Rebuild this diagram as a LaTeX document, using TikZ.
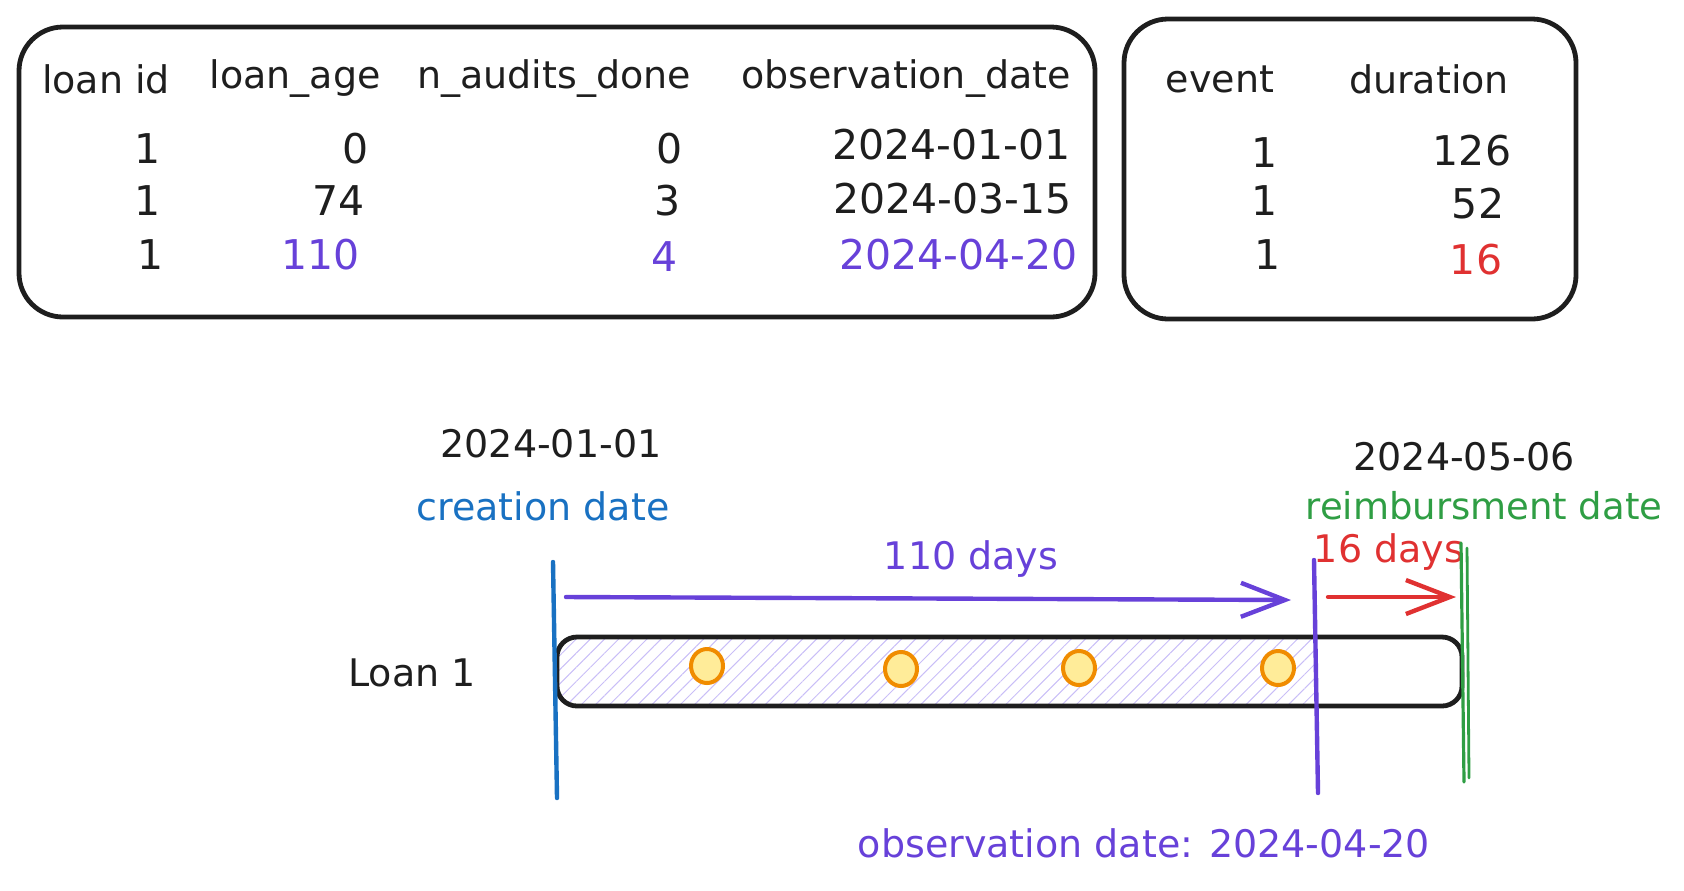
\documentclass[tikz,border=0pt]{standalone}
\usepackage{fontspec}
\setmainfont{DejaVu Sans}
\usetikzlibrary{arrows.meta,patterns.meta,shapes.geometric}
\definecolor{inkblack}{HTML}{1E1E1E}
\definecolor{inkblue}{HTML}{1971C2}
\definecolor{inkpurple}{HTML}{6741D9}
\definecolor{inkred}{HTML}{E03131}
\definecolor{inkgreen}{HTML}{2F9E44}
\definecolor{hatchpurple}{HTML}{C9BEF7}
\definecolor{dotfill}{HTML}{FFEC99}
\definecolor{dotline}{HTML}{F08C00}
\begin{document}
\begin{tikzpicture}[x=0.5pt,y=-0.5pt,
  every node/.style={inner sep=0pt,text=inkblack},
  hdr/.style={font=\fontsize{19}{22}\selectfont},
  val/.style={font=\fontsize{20.5}{24}\selectfont},
  lbl/.style={font=\fontsize{19}{22}\selectfont},
  tablebox/.style={draw=inkblack,line width=2.4pt,rounded corners=22pt},
  mark line/.style={line width=2.2pt,line cap=round},
  dayarrow/.style={line width=2.2pt,line cap=round,-{Straight Barb[length=22pt,width=17pt,line width=2.2pt]}},
  dot/.style={draw=dotline,fill=dotfill,line width=2pt,ellipse,minimum width=16pt,minimum height=17pt}
]
\useasboundingbox (0,0) rectangle (1684,890);

% ---- tables ----
\draw[tablebox] (19,27) rectangle (1095,317);
\draw[tablebox] (1124,19) rectangle (1576,319);

\node[hdr] (h1) at (106,79) {loan id};
\node[hdr] (h2) at (295,79) {loan\_age};
\node[hdr] (h3) at (554,79) {n\_audits\_done};
\node[hdr] (h4) at (906,79) {observation\_date};

\node[val] (r1c1) at (148,149) {1};
\node[val] (r2c1) at (148,201) {1};
\node[val] (r3c1) at (151,255) {1};
\node[val,anchor=east] (r1c2) at (369,149) {0};
\node[val,anchor=east] (r2c2) at (365,201) {74};
\node[val,anchor=east,text=inkpurple] (r3c2) at (360,255) {110};
\node[val] (r1c3) at (670,149) {0};
\node[val] (r2c3) at (668,201) {3};
\node[val,text=inkpurple] (r3c3) at (665,257) {4};
\node[val,anchor=east] (r1c4) at (1071,145) {2024-01-01};
\node[val,anchor=east] (r2c4) at (1072,199) {2024-03-15};
\node[val,anchor=east,text=inkpurple] (r3c4) at (1078,255) {2024-04-20};

\node[hdr] (h5) at (1220,79) {event};
\node[hdr] (h6) at (1429,79) {duration};
\node[val] (d1a) at (1265,153) {1};
\node[val] (d2a) at (1265,201) {1};
\node[val] (d3a) at (1268,255) {1};
\node[val] (d1b) at (1472,151) {126};
\node[val] (d2b) at (1478,204) {52};
\node[val,text=inkred] (d3b) at (1476,260) {16};

% ---- timeline labels ----
\node[lbl] (startdate) at (551,444) {2024-01-01};
\node[lbl,text=inkblue] (creation) at (543,506) {creation date};
\node[lbl] (enddate) at (1464,457) {2024-05-06};
\node[lbl,text=inkgreen,font=\fontsize{18.5}{22}\selectfont] (reimb) at (1484,506) {reimbursment date};
\node[lbl,text=inkpurple] (days110) at (971,559) {110 days};
\node[lbl,text=inkred] (days16) at (1389,552) {16 days};
\node[lbl] (loan1) at (412,673) {Loan 1};
\node[lbl,text=inkpurple] (obsdate) at (1144,843) {observation date: 2024-04-20};

% ---- bar ----
\begin{scope}
  \clip[rounded corners=10pt] (557,637) rectangle (1462,706);
  \fill[pattern={Lines[angle=45,distance=5pt,line width=0.5pt]},pattern color=hatchpurple]
    (557,637) rectangle (1315,706);
\end{scope}
\draw[inkblack,line width=2.4pt,rounded corners=10pt] (557,637) rectangle (1462,706);

\node[dot] (e1) at (707,666) {};
\node[dot] (e2) at (901,669) {};
\node[dot] (e3) at (1079,668) {};
\node[dot] (e4) at (1278,668) {};

% ---- marker lines ----
\coordinate (blueTop) at (553,562);
\coordinate (blueBot) at (557,798);
\coordinate (purpTop) at (1314,560);
\coordinate (purpBot) at (1318,793);
\coordinate (grnTop) at (1461,543);
\coordinate (grnBot) at (1464,782);
\coordinate (grnTop2) at (1467,548);
\coordinate (grnBot2) at (1469,778);
\draw[mark line,inkblue] (blueTop) -- (blueBot);
\draw[mark line,inkpurple] (purpTop) -- (purpBot);
\draw[mark line,inkgreen,line width=1.6pt] (grnTop) -- (grnBot);
\draw[mark line,inkgreen,line width=1.4pt] (grnTop2) -- (grnBot2);

% ---- arrows ----
\coordinate (a1s) at (566,597);
\coordinate (a1e) at (1291,600);
\coordinate (a2s) at (1328,597);
\coordinate (a2e) at (1456,597);
\draw[dayarrow,inkpurple] (a1s) -- (a1e);
\draw[dayarrow,inkred] (a2s) -- (a2e);
\end{tikzpicture}
\end{document}
